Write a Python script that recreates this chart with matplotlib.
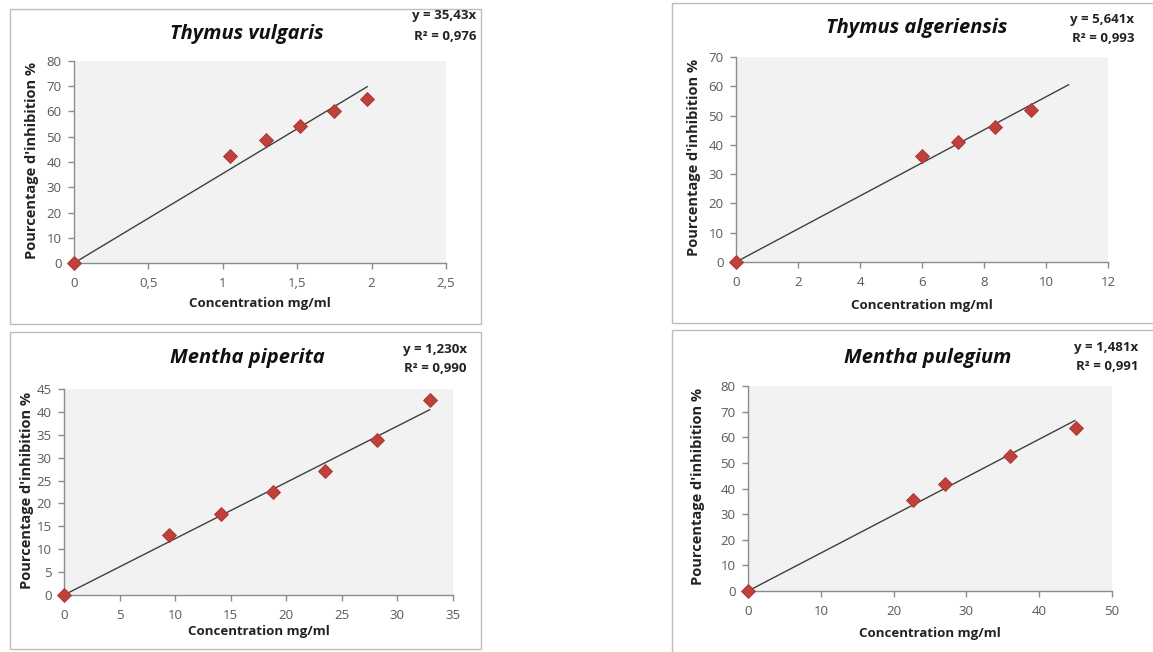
import matplotlib
matplotlib.use("Agg")
import matplotlib.pyplot as plt
from matplotlib.patches import Rectangle
from matplotlib.ticker import FuncFormatter, MultipleLocator

plt.rcParams['font.family'] = ['Open Sans', 'DejaVu Sans']

W, H = 1153, 652

# ---- data ----
titles = ["Thymus vulgaris", "Thymus algeriensis", "Mentha piperita", "Mentha pulegium"]
x_vulgaris = [0, 1.05, 1.29, 1.52, 1.75, 1.97]
y_vulgaris = [0, 42.3, 48.6, 54.1, 60.2, 64.9]
x_algeriensis = [0, 6.0, 7.16, 8.37, 9.53]
y_algeriensis = [0, 36.1, 41.0, 46.1, 52.0]
x_piperita = [0, 9.45, 14.1, 18.8, 23.5, 28.2, 32.95]
y_piperita = [0, 13.0, 17.6, 22.5, 27.0, 33.8, 42.5]
x_pulegium = [0, 22.7, 27.1, 36.0, 45.0]
y_pulegium = [0, 35.7, 41.6, 52.8, 63.5]
slopes = [35.43, 5.641, 1.230, 1.481]
trend_end = [1.97, 10.73, 32.9, 44.9]
equations = ["y = 35,43x", "y = 5,641x", "y = 1,230x", "y = 1,481x"]
r2_labels = ["R² = 0,976", "R² = 0,993", "R² = 0,990", "R² = 0,991"]
xlims = [2.5, 12, 35, 50]
xsteps = [0.5, 2, 5, 10]
ylims = [80, 70, 45, 80]
ysteps = [10, 10, 5, 10]

xs = [x_vulgaris, x_algeriensis, x_piperita, x_pulegium]
ys = [y_vulgaris, y_algeriensis, y_piperita, y_pulegium]

# ---- layout (pixels, top-origin) ----
axes_px = [(74, 61, 446, 263), (736, 57, 1108, 262), (64, 389, 453, 595), (748, 386, 1112, 591)]
frames_px = [(10, 9, 481, 324), (672, 3, 1160, 323), (10, 332, 481, 649), (672, 330, 1160, 660)]
title_px = [(247, 34), (917, 28), (247, 358), (928, 358)]
eq_right = [476, 1134, 467, 1138]
eq_y1 = [16, 20, 349, 347]
eq_y2 = [36, 39, 369, 367]
ylab_x = [32, 694, 27, 698]
xlab_y = [304, 305, 632, 633]

fig = plt.figure(figsize=(W / 100, H / 100), dpi=100)
fig.patch.set_facecolor("white")

def fx(px):
    return px / W

def fy(py):
    return 1 - py / H

for (x0, y0, x1, y1) in frames_px:
    fig.patches.append(Rectangle((fx(x0), fy(y1)), fx(x1 - x0), (y1 - y0) / H,
                                 transform=fig.transFigure, fill=False,
                                 edgecolor="#BDBDBD", linewidth=1.0))

def comma_fmt(v, pos):
    s = ("%g" % v)
    return s.replace(".", ",")

tick_color = "#595959"
for i in range(4):
    x0, y0, x1, y1 = axes_px[i]
    ax = fig.add_axes([fx(x0), fy(y1), fx(x1 - x0), (y1 - y0) / H])
    ax.set_facecolor("#F2F2F2")
    for s in ["top", "right"]:
        ax.spines[s].set_visible(False)
    for s in ["left", "bottom"]:
        ax.spines[s].set_color("#8C8C8C")
        ax.spines[s].set_linewidth(1.0)
    ax.set_xlim(0, xlims[i])
    ax.set_ylim(0, ylims[i])
    ax.xaxis.set_major_locator(MultipleLocator(xsteps[i]))
    ax.yaxis.set_major_locator(MultipleLocator(ysteps[i]))
    ax.xaxis.set_major_formatter(FuncFormatter(comma_fmt))
    ax.yaxis.set_major_formatter(FuncFormatter(comma_fmt))
    ax.tick_params(axis="both", direction="out", length=4, width=1.0, color="#8C8C8C",
                   labelsize=9.5, labelcolor=tick_color)
    ax.tick_params(axis="x", pad=6)
    ax.tick_params(axis="y", pad=5)

    xe = trend_end[i]
    ax.plot([0, xe], [0, slopes[i] * xe], color="#3F3F3F", linewidth=1.0, zorder=2)
    ax.plot(xs[i], ys[i], linestyle="none", marker="D", markersize=7,
            markerfacecolor="#C0403C", markeredgecolor="#A8302D", markeredgewidth=0.6,
            clip_on=False, zorder=3)

    tx, ty = title_px[i]
    fig.text(fx(tx), fy(ty), titles[i], ha="center", va="center", fontsize=14.5,
             fontweight="bold", fontstyle="italic", color="#111111")
    fig.text(fx(eq_right[i]), fy(eq_y1[i]), equations[i], ha="right", va="center",
             fontsize=9.5, fontweight="bold", color="#222222")
    fig.text(fx(eq_right[i]), fy(eq_y2[i]), r2_labels[i], ha="right", va="center",
             fontsize=9.5, fontweight="bold", color="#222222")
    fig.text(fx(ylab_x[i]), fy((y0 + y1) / 2 - 2), "Pourcentage d'inhibition %", rotation=90,
             ha="center", va="center", fontsize=10.5, fontweight="bold", color="#222222")
    fig.text(fx((x0 + x1) / 2), fy(xlab_y[i]), "Concentration mg/ml", ha="center",
             va="center", fontsize=9.5, fontweight="bold", color="#222222")

fig.savefig("out.png", dpi=100, facecolor="white")
